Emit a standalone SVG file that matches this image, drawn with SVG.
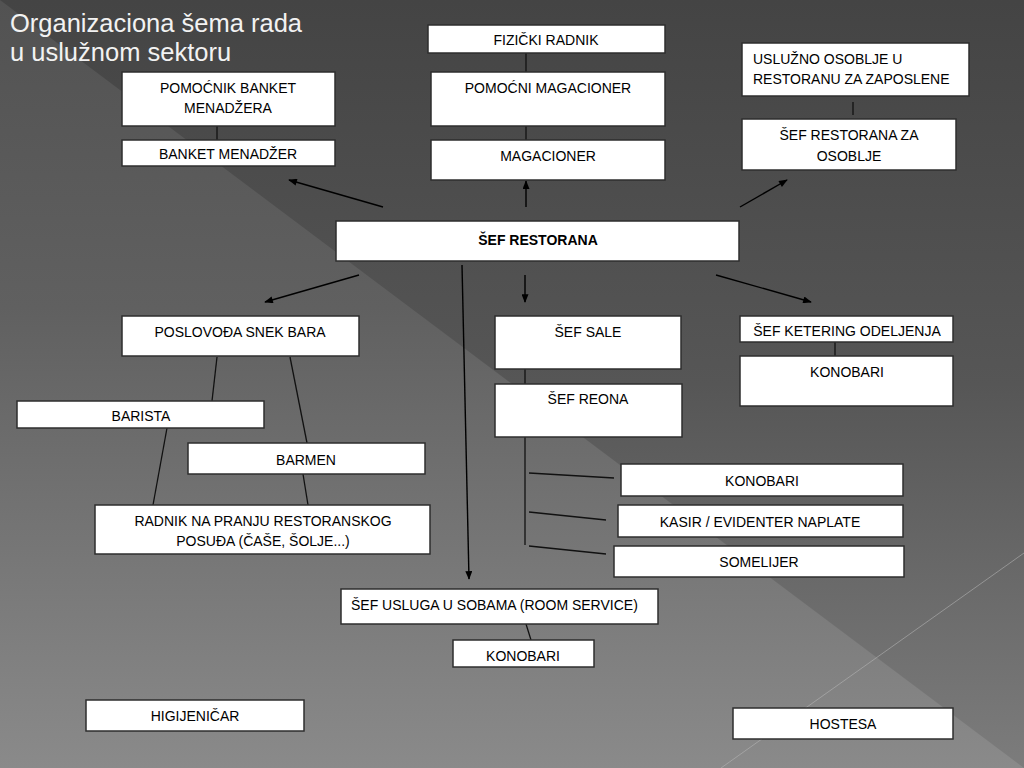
<svg xmlns="http://www.w3.org/2000/svg" width="1024" height="768" viewBox="0 0 1024 768">
<defs>
<linearGradient id="bgA" x1="0" y1="0" x2="0" y2="1">
<stop offset="0" stop-color="#444444"/>
<stop offset="0.5" stop-color="#565656"/>
<stop offset="1" stop-color="#7c7c7c"/>
</linearGradient>
<linearGradient id="bgB" x1="0" y1="0" x2="0" y2="1">
<stop offset="0" stop-color="#525252"/>
<stop offset="0.4" stop-color="#606060"/>
<stop offset="1" stop-color="#8a8a8a"/>
</linearGradient>
<marker id="ah" viewBox="0 0 10 8" refX="9" refY="4" markerWidth="10" markerHeight="7" markerUnits="userSpaceOnUse" orient="auto">
<path d="M0,0 L10,4 L0,8 z" fill="#000"/>
</marker>
<style>
.box{fill:#fff;stroke:#2e2e2e;stroke-width:1.5}
.t{font-family:"Liberation Sans",Arial,sans-serif;font-size:14px;fill:#000;text-anchor:middle}
.tl{text-anchor:start}
.b{font-weight:bold}
.ln{stroke:#111;stroke-width:1.3;fill:none}
.ar{stroke:#000;stroke-width:1.4;fill:none;marker-end:url(#ah)}
.title{font-family:"Liberation Sans",Arial,sans-serif;font-size:25.5px;fill:#f2f2f2}
</style>
</defs>
<rect x="0" y="0" width="1024" height="768" fill="url(#bgA)"/>
<polygon points="0,0 1024,768 0,768" fill="url(#bgB)"/>
<line x1="1024" y1="553" x2="721" y2="768" stroke="#b8b8b8" stroke-opacity="0.55" stroke-width="1"/>
<text class="title" x="10" y="32">Organizaciona šema rada</text>
<text class="title" x="10" y="61">u uslužnom sektoru</text>
<g id="connectors">
<line class="ln" x1="526" y1="53" x2="526" y2="72"/>
<line class="ln" x1="526" y1="126" x2="526" y2="140"/>
<line class="ln" x1="217" y1="126" x2="217" y2="140"/>
<line class="ln" x1="853" y1="102" x2="853" y2="115"/>
<line class="ar" x1="383" y1="207" x2="289" y2="180"/>
<line class="ar" x1="526" y1="207" x2="526" y2="181"/>
<line class="ar" x1="740" y1="207" x2="787" y2="180"/>
<line class="ar" x1="359" y1="275" x2="265" y2="302"/>
<line class="ar" x1="525" y1="275" x2="525" y2="302"/>
<line class="ar" x1="716" y1="275" x2="811" y2="302"/>
<line class="ar" x1="462" y1="265" x2="469" y2="579"/>
<line class="ln" x1="217" y1="357" x2="212" y2="401"/>
<line class="ln" x1="290" y1="357" x2="307" y2="443"/>
<line class="ln" x1="167" y1="428" x2="153" y2="505"/>
<line class="ln" x1="303" y1="474" x2="308" y2="505"/>
<line class="ln" x1="525" y1="369" x2="525" y2="384"/>
<line class="ln" x1="525" y1="437" x2="525" y2="545"/>
<line class="ln" x1="529" y1="473" x2="614" y2="478"/>
<line class="ln" x1="529" y1="512" x2="606" y2="520"/>
<line class="ln" x1="529" y1="546" x2="606" y2="554"/>
<line class="ln" x1="835" y1="342" x2="835" y2="356"/>
<line class="ln" x1="526" y1="624" x2="531" y2="640"/>
</g>
<g id="fizicki-radnik"><rect class="box" x="428" y="25" width="237" height="28"/><text class="t" x="546" y="45">FIZIČKI RADNIK</text></g>
<g id="pomocni-magacioner"><rect class="box" x="431" y="72" width="234" height="54"/><text class="t" x="548" y="93">POMOĆNI MAGACIONER</text></g>
<g id="magacioner"><rect class="box" x="431" y="140" width="234" height="40"/><text class="t" x="548" y="161">MAGACIONER</text></g>
<g id="pomocnik-banket"><rect class="box" x="122" y="72" width="213" height="54"/><text class="t" x="228" y="93">POMOĆNIK BANKET</text><text class="t" x="228" y="113">MENADŽERA</text></g>
<g id="banket-menadzer"><rect class="box" x="122" y="140" width="213" height="26"/><text class="t" x="228" y="159">BANKET MENADŽER</text></g>
<g id="usluzno-osoblje"><rect class="box" x="742" y="43" width="227" height="53"/><text class="t tl" x="753" y="64">USLUŽNO OSOBLJE U</text><text class="t tl" x="753" y="84">RESTORANU ZA ZAPOSLENE</text></g>
<g id="sef-restorana-osoblje"><rect class="box" x="742" y="119" width="214" height="51"/><text class="t" x="849" y="140">ŠEF RESTORANA ZA</text><text class="t" x="849" y="161">OSOBLJE</text></g>
<g id="sef-restorana"><rect class="box" x="336" y="221" width="403" height="40"/><text class="t b" x="538" y="245">ŠEF RESTORANA</text></g>
<g id="poslovodja"><rect class="box" x="122" y="316" width="237" height="40"/><text class="t" x="240" y="337">POSLOVOĐA SNEK BARA</text></g>
<g id="barista"><rect class="box" x="17" y="401" width="247" height="27"/><text class="t" x="141" y="421">BARISTA</text></g>
<g id="barmen"><rect class="box" x="188" y="443" width="237" height="31"/><text class="t" x="306" y="465">BARMEN</text></g>
<g id="radnik-pranje"><rect class="box" x="95" y="505" width="335" height="49"/><text class="t" x="263" y="526">RADNIK NA PRANJU RESTORANSKOG</text><text class="t" x="263" y="546">POSUĐA (ČAŠE, ŠOLJE...)</text></g>
<g id="sef-sale"><rect class="box" x="495" y="316" width="186" height="53"/><text class="t" x="588" y="337">ŠEF SALE</text></g>
<g id="sef-reona"><rect class="box" x="495" y="384" width="187" height="53"/><text class="t" x="588" y="404">ŠEF REONA</text></g>
<g id="konobari-reon"><rect class="box" x="621" y="464" width="282" height="32"/><text class="t" x="762" y="486">KONOBARI</text></g>
<g id="kasir"><rect class="box" x="618" y="505" width="285" height="32"/><text class="t" x="760" y="527">KASIR / EVIDENTER NAPLATE</text></g>
<g id="somelijer"><rect class="box" x="614" y="546" width="290" height="31"/><text class="t" x="759" y="567">SOMELIJER</text></g>
<g id="sef-ketering"><rect class="box" x="740" y="316" width="213" height="26"/><text class="t" x="847" y="336">ŠEF KETERING ODELJENJA</text></g>
<g id="konobari-ketering"><rect class="box" x="740" y="356" width="213" height="50"/><text class="t" x="847" y="377">KONOBARI</text></g>
<g id="sef-usluga-sobama"><rect class="box" x="341" y="589" width="317" height="35"/><text class="t tl" x="351" y="610">ŠEF USLUGA U SOBAMA (ROOM SERVICE)</text></g>
<g id="konobari-sobe"><rect class="box" x="453" y="640" width="141" height="27"/><text class="t" x="523" y="661">KONOBARI</text></g>
<g id="higijenicar"><rect class="box" x="86" y="700" width="218" height="31"/><text class="t" x="195" y="721">HIGIJENIČAR</text></g>
<g id="hostesa"><rect class="box" x="733" y="708" width="220" height="31"/><text class="t" x="843" y="729">HOSTESA</text></g>
</svg>
